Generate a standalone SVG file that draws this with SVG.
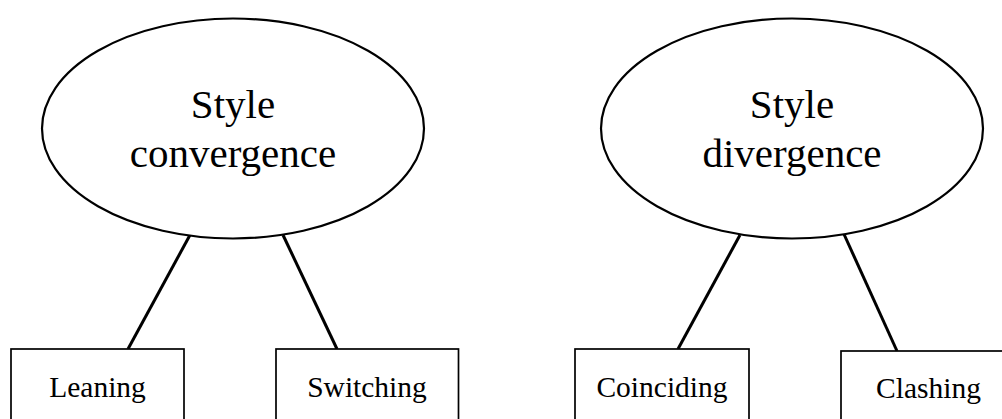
<svg xmlns="http://www.w3.org/2000/svg" width="1002" height="419" viewBox="0 0 1002 419">
<style>
.bg{fill:#fff}
.ell{fill:#fff;stroke:#000;stroke-width:2.2}
.box{fill:#fff;stroke:#000;stroke-width:1.7}
.big{font-family:"Liberation Serif","Times New Roman",serif;font-size:41px;fill:#000;text-anchor:middle}
.small{font-family:"Liberation Serif","Times New Roman",serif;font-size:29.5px;fill:#000;text-anchor:middle}
.conn line{stroke:#000;stroke-width:3;stroke-linecap:butt}
</style>
<rect class="bg" x="0" y="0" width="1002" height="419"/>
<g id="connectors" class="conn">
<line x1="190" y1="235" x2="128" y2="349"/>
<line x1="283" y1="235" x2="337" y2="349"/>
<line x1="740" y1="235" x2="678" y2="349"/>
<line x1="843" y1="232" x2="897" y2="351"/>
</g>
<g id="style-convergence">
<ellipse class="ell" cx="233" cy="128.5" rx="191" ry="110"/>
<text class="big" x="233" y="118">Style</text>
<text class="big" x="233" y="167">convergence</text>
</g>
<g id="style-divergence">
<ellipse class="ell" cx="792" cy="128.5" rx="191" ry="110"/>
<text class="big" x="792" y="118">Style</text>
<text class="big" x="792" y="167">divergence</text>
</g>
<g id="leaning">
<rect class="box" x="11" y="349" width="173" height="90"/>
<text class="small" x="97.5" y="396.5">Leaning</text>
</g>
<g id="switching">
<rect class="box" x="276" y="349" width="182.5" height="90"/>
<text class="small" x="367" y="396.5">Switching</text>
</g>
<g id="coinciding">
<rect class="box" x="575" y="349" width="174" height="90"/>
<text class="small" x="662" y="396.5">Coinciding</text>
</g>
<g id="clashing">
<rect class="box" x="841" y="351" width="176" height="90"/>
<text class="small" x="928.5" y="398">Clashing</text>
</g>
</svg>
